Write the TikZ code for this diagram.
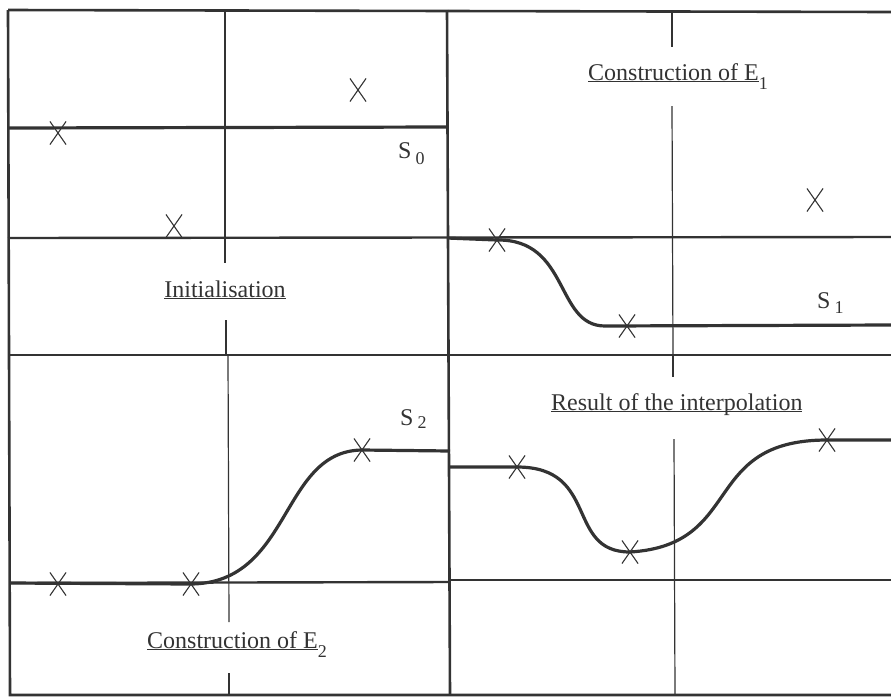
\documentclass[tikz,border=0pt]{standalone}
\usepackage{fontspec}
\setmainfont{Liberation Serif}
\usetikzlibrary{shapes.misc}
\definecolor{ink}{gray}{0.2}
\newcommand{\ul}[1]{\underline{\smash{#1}}}
\newcommand{\lowsub}[2]{\raisebox{#1}{\fontsize{18}{18}\selectfont #2}}
\tikzset{
	frame/.style={line width=2.6pt, draw=ink},
	axis/.style={line width=1.2pt, draw=ink},
	refline/.style={line width=2.4pt, draw=ink},
	curve/.style={line width=3.2pt, draw=ink},
	crossmark/.style={cross out, draw=ink, line width=1.1pt, minimum width=15pt, minimum height=22pt, inner sep=0pt},
	lab/.style={font=\fontsize{24}{28}\selectfont, inner sep=0pt, text=ink}
}

\begin{document}
\begin{tikzpicture}[x=1pt, y=-1pt]
		\useasboundingbox (0,0) rectangle (891,697);
		% frame and panels
		\coordinate (TL) at (8,10);
		\coordinate (TR) at (891,12);
		\coordinate (BL) at (10,695);
		\coordinate (BR) at (891,695);
		\coordinate (MT) at (447,10);
		\coordinate (MB) at (450,695);
		\coordinate (ML) at (8,355);
		\coordinate (MR) at (891,355);
		\draw[frame] (TL)--(TR);
		\draw[frame] (TL)--(BL)--(BR);
		\draw[frame] (MT)--(MB);
		\draw[frame] (ML)--(MR);
		% vertical axes, broken for the titles
		\draw[axis] (225,10)--(225,263);
		\draw[axis] (226,320)--(226,355);
		\draw[axis] (672,12)--(672,47);
		\draw[axis] (672,106)--(673,355);
		\draw[axis] (228,355)--(229,622);
		\draw[axis] (229,673)--(229,695);
		\draw[axis] (673,355)--(673,377);
		\draw[axis] (674,439)--(675,695);
		% reference lines
		\draw[refline] (8,238)--(891,237);
		\draw[refline] (10,583)--(450,582);
		\draw[refline] (450,580)--(891,580);
		% points
		\node[crossmark] (a1) at (358,90) {};
		\node[crossmark] (a2) at (58,133) {};
		\node[crossmark] (a3) at (174,226) {};
		\node[crossmark] (b1) at (497,240) {};
		\node[crossmark] (b2) at (627,326) {};
		\node[crossmark] (b3) at (815,200) {};
		\node[crossmark] (c1) at (58,584) {};
		\node[crossmark] (c2) at (191,584) {};
		\node[crossmark] (c3) at (362,450) {};
		\node[crossmark] (d1) at (517,467) {};
		\node[crossmark] (d2) at (630,552) {};
		\node[crossmark] (d3) at (827,440) {};
		% the curves S0, S1, S2 and the result
		\draw[curve] (8,128)--(447,127);
		\draw[curve] (447,238)--(b1.center) .. controls (570,239) and (555,326) .. (605,326)--(891,325);
		\draw[curve] (10,583)--(c2.center) .. controls (292,583) and (280,451) .. (c3.center)--(450,451);
		\draw[curve] (450,467)--(d1.center) .. controls (600,467) and (565,552) .. (d2.center)
			.. controls (745,545) and (700,440) .. (d3.center)--(891,440);
		% labels
		\node[lab, anchor=base] (init) at (225,297) {\ul{Initialisation}};
		\node[lab, anchor=base west] (cone1) at (588,80) {\ul{Construction of E}\lowsub{-9pt}{1}};
		\node[lab, anchor=base west] (cone2) at (147,648) {\ul{Construction of E}\lowsub{-9pt}{2}};
		\node[lab, anchor=base west] (res) at (551,410) {\ul{Result of the interpolation}};
		\node[lab, anchor=base west] (s0) at (398,158) {S\,\lowsub{-6pt}{0}};
		\node[lab, anchor=base west] (s1) at (817,308) {S\,\lowsub{-5pt}{1}};
		\node[lab, anchor=base west] (s2) at (400,425) {S\,\lowsub{-3pt}{2}};
\end{tikzpicture}
\end{document}
